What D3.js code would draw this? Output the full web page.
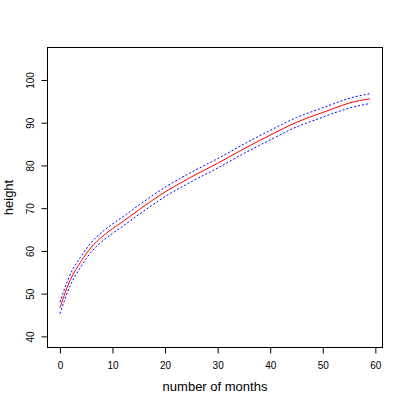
<!DOCTYPE html>
<html>
<head>
<meta charset="utf-8">
<script src="https://cdn.jsdelivr.net/npm/d3@7"></script>
<style>
  body { margin: 0; background: #fff; }
  svg { display: block; font-family: "Liberation Sans", Arial, sans-serif; }
</style>
</head>
<body>
<div class="chart"></div>
<script>
"use strict";

// values
const months = [0, 2, 4, 6, 8, 10, 12, 15, 20, 25, 30, 35, 40, 45, 50, 52, 55, 59];
const meanHeight = [46.7, 53.3, 57.5, 60.9, 63.3, 65.2, 66.9, 69.6, 73.8, 77.3, 80.5, 83.9, 87.1, 90.1, 92.4, 93.3, 94.6, 95.6];
const upperHeight = [48.0, 54.6, 58.7, 62.0, 64.4, 66.3, 68.0, 70.7, 74.9, 78.4, 81.6, 85.0, 88.2, 91.2, 93.5, 94.4, 95.7, 96.8];
const lowerHeight = [45.3, 52.0, 56.3, 59.8, 62.2, 64.1, 65.8, 68.5, 72.7, 76.2, 79.4, 82.8, 86.0, 89.0, 91.3, 92.2, 93.4, 94.5];
const xTicks = [0, 10, 20, 30, 40, 50, 60];
const yTicks = [40, 50, 60, 70, 80, 90, 100];

const W = 407, H = 407;
const BOX = { left: 47.5, right: 382.5, top: 47.5, bottom: 347.5 };

const xScale = d3.scaleLinear().domain([-2.36, 61.36]).range([BOX.left, BOX.right]);
const yScale = d3.scaleLinear().domain([37.4, 107.6]).range([BOX.bottom, BOX.top]);

const svg = d3.select(".chart").append("svg").attr("width", W).attr("height", H);

// plot box
svg.append("rect")
  .attr("x", BOX.left).attr("y", BOX.top)
  .attr("width", BOX.right - BOX.left).attr("height", BOX.bottom - BOX.top)
  .attr("fill", "none").attr("stroke", "#000").attr("stroke-width", 1);

// axes
const xAxis = d3.axisBottom(xScale).tickValues(xTicks).tickSizeOuter(0).tickSize(6).tickPadding(8);
const gx = svg.append("g").attr("transform", `translate(0,${BOX.bottom})`).call(xAxis);
gx.select(".domain").remove();
gx.selectAll("text").attr("font-size", 10).attr("font-family", null).attr("fill", "#000");

const yAxis = d3.axisLeft(yScale).tickValues(yTicks).tickSizeOuter(0).tickSize(6);
const gy = svg.append("g").attr("transform", `translate(${BOX.left},0)`).call(yAxis);
gy.select(".domain").remove();
gy.selectAll("text")
  .attr("font-size", 10).attr("font-family", null).attr("fill", "#000")
  .attr("transform", "rotate(-90)")
  .attr("x", 0).attr("y", -14).attr("dy", null)
  .attr("text-anchor", "middle");

// axis titles
svg.append("text")
  .attr("x", (BOX.left + BOX.right) / 2).attr("y", 391)
  .attr("text-anchor", "middle").attr("font-size", 13)
  .text("number of months");

svg.append("text")
  .attr("transform", `translate(13,${(BOX.top + BOX.bottom) / 2}) rotate(-90)`)
  .attr("text-anchor", "middle").attr("font-size", 13)
  .text("height");

// curves
const line = (vals) => d3.line()
  .x((d, i) => xScale(months[i]))
  .y((d) => yScale(d))
  .curve(d3.curveMonotoneX)(vals);

svg.append("path").attr("d", line(upperHeight))
  .attr("fill", "none").attr("stroke", "#0000ff").attr("stroke-dasharray", "2,2");
svg.append("path").attr("d", line(lowerHeight))
  .attr("fill", "none").attr("stroke", "#0000ff").attr("stroke-dasharray", "2,2");
svg.append("path").attr("d", line(meanHeight))
  .attr("fill", "none").attr("stroke", "#ff0000");
</script>
</body>
</html>
